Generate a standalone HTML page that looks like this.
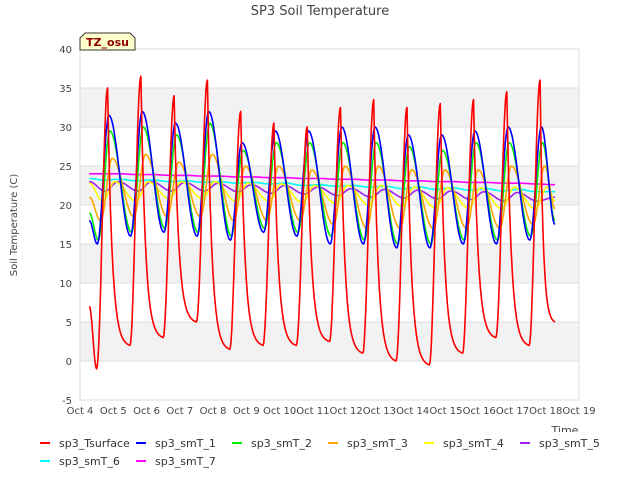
<!DOCTYPE html>
<html><head><meta charset="utf-8"><style>
body{margin:0;background:#fff;font-family:"Liberation Sans","DejaVu Sans",sans-serif;}
svg text{font-family:"DejaVu Sans","Liberation Sans",sans-serif;}
</style></head><body>
<svg id="c" width="640" height="480" xmlns="http://www.w3.org/2000/svg">
<text x="320" y="15" text-anchor="middle" font-size="13" fill="#444">SP3 Soil Temperature</text>
<text transform="translate(17,225) rotate(-90)" text-anchor="middle" font-size="10" fill="#444">Soil Temperature (C)</text>
<g id="grid"></g>
<g id="series"></g>
<rect x="80" y="49" width="499" height="351" fill="none" stroke="#ddd"/>
<g>
<path d="M80,50 L80,38 L85,33 L130,33 L135,38 L135,50 Z" fill="#ffffcc" stroke="#333"/>
<text x="107.5" y="46" text-anchor="middle" font-size="11" font-weight="bold" fill="#8b0000">TZ_osu</text>
</g>
<g id="xt"></g><g id="yt"></g>
<clipPath id="tc"><rect x="540" y="418" width="60" height="14"/></clipPath>
<text x="565" y="434" text-anchor="middle" font-size="11" fill="#444" clip-path="url(#tc)">Time</text>
<g id="legend"></g>
</svg>
<script>
const yTicks=[-5,0,5,10,15,20,25,30,35,40];
const xTickLabels=["Oct 4","Oct 5","Oct 6","Oct 7","Oct 8","Oct 9","Oct 10","Oct 11","Oct 12","Oct 13","Oct 14","Oct 15","Oct 16","Oct 17","Oct 18","Oct 19"];
const seriesNames=["sp3_Tsurface","sp3_smT_1","sp3_smT_2","sp3_smT_3","sp3_smT_4","sp3_smT_5","sp3_smT_6","sp3_smT_7"];
const colors=["#ff0000","#0000ff","#00ee00","#ffa500","#ffff00","#a020f0","#00ffff","#ff00ff"];
// daily peaks / troughs (day 0 = Oct 4)
const tsPeaks=[35,36.5,34,36,32,30.5,30,32.5,33.5,32.5,33,33.5,34.5,36];
const tsTroughs=[-1,2,3,5,1.5,2,2,2.5,1,0,-0.5,1,3,2];
const s1Peaks=[31.5,32,30.5,32,28,29.5,29.5,30,30,29,29,29.5,30,30];
const s1Troughs=[15,16,16.5,16,15.5,16.5,16,15,15,14.5,14.5,15,15,15.5];
const s2Peaks=[29.5,30,29,30.5,27,28,28,28,28,27.5,27,28,28,28];
const s2Troughs=[15.5,16.5,17,16.5,16,17,16.5,16,15.5,15,15,15.5,15.5,16];
const s3Peaks=[26,26.5,25.5,26.5,25,25,24.5,25,25,24.5,24.5,24.5,25,25];
const s3Troughs=[18,18.5,18.5,18.5,18,18,18,17.5,17,17,17,17,17,17.5];
const s4Peaks=[23,23,23,23,22.8,22.7,22.5,22.5,22.5,22.3,22.2,22.2,22.3,22.3];
const s4Troughs=[20.5,20.5,20.8,20.8,20.5,20.5,20.3,20.2,20,19.8,19.6,19.6,19.5,19.5];
const s5Peaks=[23,23,23,22.9,22.8,22.6,22.5,22.3,22.1,22,21.9,21.8,21.7,21.6];
const s5Troughs=[21.8,21.8,21.8,21.8,21.7,21.5,21.4,21.2,21,20.9,20.8,20.7,20.5,20.5];
const s6Peaks=[23.4,23.3,23.2,23.1,23,22.9,22.8,22.6,22.5,22.4,22.3,22.2,22.1,22];
const s6Troughs=[23.2,23.1,23,22.9,22.8,22.7,22.5,22.4,22.3,22.1,22,21.9,21.8,21.7];
const s7Peaks=[24,24,23.9,23.8,23.7,23.6,23.5,23.4,23.3,23.2,23.1,23,22.9,22.8];
const s7Troughs=[24,23.9,23.8,23.7,23.6,23.5,23.4,23.3,23.2,23.1,23,22.9,22.8,22.7];
const startVals=[7,18,19,21,22.8,23,23.4,24];
const endVals=[5,17.5,18,19.5,20.5,21,21.7,22.6];
const peakOffsets=[0.83,0.87,0.9,0.97,1.05,0.15,0.2,0.2];
const troughOffsets=[0.5,0.52,0.55,0.62,0.68,0.75,0.7,0.7];
const allPeaks=[tsPeaks,s1Peaks,s2Peaks,s3Peaks,s4Peaks,s5Peaks,s6Peaks,s7Peaks];
const allTroughs=[tsTroughs,s1Troughs,s2Troughs,s3Troughs,s4Troughs,s5Troughs,s6Troughs,s7Troughs];
const tStart=0.28, tEnd=14.28;

const X0=80,X1=579,Y0=400,Y1=49;
const xs=d=>X0+(d/15)*(X1-X0);
const ys=v=>Y0-(v+5)/45*(Y0-Y1);
const NS="http://www.w3.org/2000/svg";
const mk=(t,a,p)=>{const e=document.createElementNS(NS,t);for(const k in a)e.setAttribute(k,a[k]);p.appendChild(e);return e;};
const grid=document.getElementById('grid');
for(let i=0;i<yTicks.length-1;i++){
  if(i%2===1){const r=mk('rect',{x:X0,y:ys(yTicks[i+1]),width:X1-X0,height:ys(yTicks[i])-ys(yTicks[i+1]),fill:'#f2f2f2'},grid);
  
  }
}
const yt=document.getElementById('yt');
yTicks.forEach(v=>{
  const l=mk('line',{x1:X0,x2:X1,y1:ys(v),y2:ys(v),stroke:'#ddd'},grid);
  
  
  const t=mk('text',{x:72,y:ys(v)+4,'text-anchor':'end','font-size':10,fill:'#444'},yt);t.textContent=v;
  
  
});
const xt=document.getElementById('xt');
xTickLabels.forEach((s,i)=>{
  const t=mk('text',{x:xs(i),y:414,'text-anchor':'middle','font-size':10,fill:'#444'},xt);t.textContent=s;
  
  
});
const sg=document.getElementById('series');
for(let s=7;s>=0;s--){
  const P=allPeaks[s],T=allTroughs[s],po=peakOffsets[s],to=troughOffsets[s];
  let keys=[[tStart,startVals[s]]];
  for(let d=0;d<15;d++){
    if(T[d]!==undefined)keys.push([d+to,T[d],'t']);
    if(P[d]!==undefined)keys.push([d+po,P[d],'p']);
  }
  keys=keys.filter(k=>k[0]>=tStart&&k[0]<tEnd-0.05);
  keys.sort((a,b)=>a[0]-b[0]);
  keys.push([tEnd,endVals[s],'e']);
  const pts=[];
  for(let i=0;i<keys.length-1;i++){
    const [a,va,ta]=keys[i],[b,vb]=keys[i+1];
    const n=16;
    for(let j=0;j<n;j++){
      const f=j/n;let g;
      if(s===0&&ta==='p'){g=1-Math.exp(-5*f);g=g/(1-Math.exp(-5));}
      else g=(1-Math.cos(Math.PI*f))/2;
      pts.push([xs(a+(b-a)*f),ys(va+(vb-va)*g)]);
    }
  }
  const last=keys[keys.length-1];pts.push([xs(last[0]),ys(last[1])]);
  const pl=mk('polyline',{points:pts.map(p=>p[0].toFixed(1)+','+p[1].toFixed(1)).join(' '),fill:'none',stroke:colors[s],'stroke-width':1.6,'stroke-linejoin':'round'},sg);
  
  
}
const lg=document.getElementById('legend');
const lpos=[[40,443],[136,443],[232,443],[328,443],[424,443],[520,443],[40,461],[136,461]];
seriesNames.forEach((n,i)=>{
  const g=mk('g',{},lg);
  
  
  const [x,y]=lpos[i];
  mk('line',{x1:x,x2:x+10,y1:y,y2:y,stroke:colors[i],'stroke-width':2},g);
  const t=mk('text',{x:x+19,y:y+4,'font-size':11,fill:'#333'},g);t.textContent=n;
});
</script>
</body></html>
